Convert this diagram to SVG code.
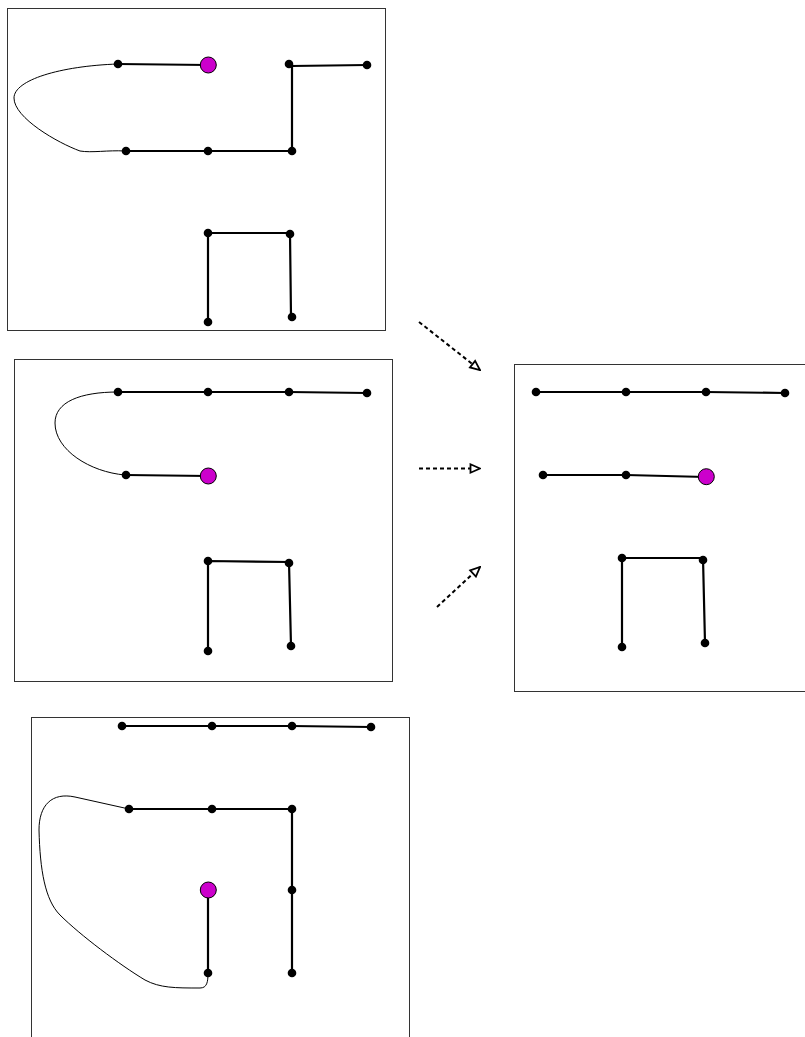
<svg xmlns="http://www.w3.org/2000/svg" width="805" height="1037" viewBox="0 0 805 1037">
<style>
.panel{fill:#fff;stroke:#333;stroke-width:1}
.e{fill:none;stroke:#000;stroke-width:2.2}
.c{fill:none;stroke:#000;stroke-width:1}
.n{fill:#000}
.m{fill:#cc00cc;stroke:#000;stroke-width:1}
.a{fill:none;stroke:#000;stroke-width:2;stroke-dasharray:4,3}
</style>
<defs>
<marker id="tri" viewBox="0 0 12 12" refX="11" refY="6" markerWidth="12" markerHeight="12" markerUnits="userSpaceOnUse" orient="auto">
<path d="M1.5,1.8 L11,6 L1.5,10.2 Z" fill="#fff" stroke="#000" stroke-width="1.8"/>
</marker>
</defs>
<rect width="805" height="1037" fill="#fff"/>

<g id="panel1">
<rect class="panel" x="7.5" y="8.5" width="378" height="322"/>
<g id="p1-edges">
<path class="c" d="M118,64 C60,66 14,80 14,98 C14,118 58,143 80,151 C92,153 108,150 125,151"/>
<path class="e" d="M118,64 L208,65"/>
<path class="e" d="M367,65 L292,66 L292,151"/>
<path class="e" d="M126,151 L292,151"/>
<path class="e" d="M208,322 L208,233 L290,233 L291,317"/>
</g>
<g id="p1-nodes">
<circle class="n" cx="118" cy="64" r="4.3"/>
<circle class="n" cx="289" cy="64" r="4.3"/>
<circle class="n" cx="367" cy="65" r="4.3"/>
<circle class="n" cx="126" cy="151" r="4.3"/>
<circle class="n" cx="208" cy="151" r="4.3"/>
<circle class="n" cx="292" cy="151" r="4.3"/>
<circle class="n" cx="208" cy="233" r="4.3"/>
<circle class="n" cx="290" cy="234" r="4.3"/>
<circle class="n" cx="208" cy="322" r="4.3"/>
<circle class="n" cx="292" cy="317" r="4.3"/>
<ellipse class="m" cx="208.3" cy="65" rx="8" ry="8"/>
</g>
</g>

<g id="panel2">
<rect class="panel" x="14.5" y="359.5" width="378" height="322"/>
<g id="p2-edges">
<path class="c" d="M118,392 C80,392 55,402 55,423 C55,450 90,472 125,475"/>
<path class="e" d="M118,392 L208,392 L289,392 L367,393"/>
<path class="e" d="M126,475 L208,476"/>
<path class="e" d="M208,651 L208,561 L289,562 L291,646"/>
</g>
<g id="p2-nodes">
<circle class="n" cx="118" cy="392" r="4.3"/>
<circle class="n" cx="208" cy="392" r="4.3"/>
<circle class="n" cx="289" cy="392" r="4.3"/>
<circle class="n" cx="367" cy="393" r="4.3"/>
<circle class="n" cx="126" cy="475" r="4.3"/>
<circle class="n" cx="208" cy="561" r="4.3"/>
<circle class="n" cx="289" cy="563" r="4.3"/>
<circle class="n" cx="208" cy="651" r="4.3"/>
<circle class="n" cx="291" cy="646" r="4.3"/>
<ellipse class="m" cx="208.3" cy="476" rx="8" ry="8"/>
</g>
</g>

<g id="panel3">
<rect class="panel" x="514.5" y="364.5" width="378" height="327"/>
<g id="p3-edges">
<path class="e" d="M536,392 L626,392 L706,392 L785,393"/>
<path class="e" d="M543,475 L626,475 L706,477"/>
<path class="e" d="M622,647 L622,558 L703,558 L705,643"/>
</g>
<g id="p3-nodes">
<circle class="n" cx="536" cy="392" r="4.3"/>
<circle class="n" cx="626" cy="392" r="4.3"/>
<circle class="n" cx="706" cy="392" r="4.3"/>
<circle class="n" cx="785" cy="393" r="4.3"/>
<circle class="n" cx="543" cy="475" r="4.3"/>
<circle class="n" cx="626" cy="475" r="4.3"/>
<circle class="n" cx="622" cy="558" r="4.3"/>
<circle class="n" cx="703" cy="560" r="4.3"/>
<circle class="n" cx="622" cy="647" r="4.3"/>
<circle class="n" cx="705" cy="643" r="4.3"/>
<ellipse class="m" cx="706.3" cy="476.7" rx="8" ry="8"/>
</g>
</g>

<g id="panel4">
<rect class="panel" x="31.5" y="717.5" width="378" height="330"/>
<g id="p4-edges">
<path class="c" d="M129,809 L75,797 C52,792 39,805 39,830 C40,870 45,900 60,915 C80,935 120,965 145,980 C160,988 175,988 200,988 C207,988 208,982 208,973"/>
<path class="e" d="M122,726 L212,726 L292,726 L371,727"/>
<path class="e" d="M129,809 L212,809 L292,809 L292,973"/>
<path class="e" d="M208,890 L208,973"/>
</g>
<g id="p4-nodes">
<circle class="n" cx="122" cy="726" r="4.3"/>
<circle class="n" cx="212" cy="726" r="4.3"/>
<circle class="n" cx="292" cy="726" r="4.3"/>
<circle class="n" cx="371" cy="727" r="4.3"/>
<circle class="n" cx="129" cy="809" r="4.3"/>
<circle class="n" cx="212" cy="809" r="4.3"/>
<circle class="n" cx="292" cy="809" r="4.3"/>
<circle class="n" cx="292" cy="890" r="4.3"/>
<circle class="n" cx="208" cy="973" r="4.3"/>
<circle class="n" cx="292" cy="973" r="4.3"/>
<ellipse class="m" cx="208.3" cy="890" rx="8" ry="8"/>
</g>
</g>

<g id="connectors">
<line class="a" x1="419" y1="322" x2="480" y2="370" marker-end="url(#tri)"/>
<line class="a" x1="419" y1="468.5" x2="480" y2="468.5" marker-end="url(#tri)"/>
<line class="a" x1="437" y1="607" x2="480" y2="567" marker-end="url(#tri)"/>
</g>
</svg>
